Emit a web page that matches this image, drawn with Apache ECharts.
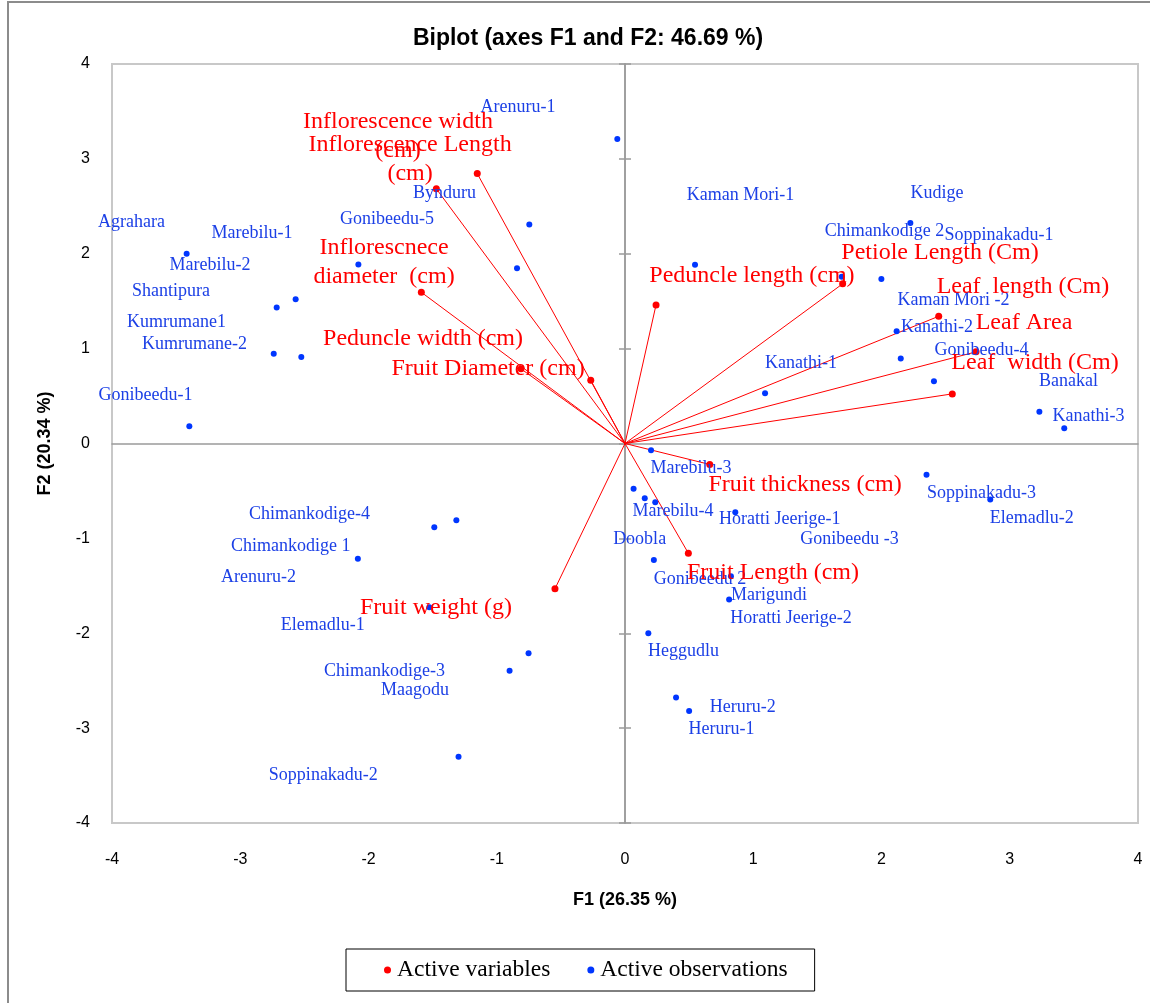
<!DOCTYPE html>
<html><head><meta charset="utf-8">
<script src="https://cdn.jsdelivr.net/npm/echarts@6/dist/echarts.min.js"></script>
<style>html,body{margin:0;padding:0;background:#fff}#c{width:1150px;height:1003px}</style>
</head><body><div id="c"></div>
<script>
// ---- data ----
const axisTicks = [-4, -3, -2, -1, 0, 1, 2, 3, 4];

const obsNames = ["Arenuru-1","Agrahara","Marebilu-1","Marebilu-2","Shantipura","Kumrumane1","Kumrumane-2","Gonibeedu-1","Gonibeedu-5","Bynduru",
  "Kaman Mori-1","Kudige","Chimankodige 2","Soppinakadu-1","Kaman Mori -2","Kanathi-2","Gonibeedu-4","Banakal","Kanathi-3","Kanathi-1",
  "Marebilu-3","Marebilu-4","Doobla","Horatti Jeerige-1","Gonibeedu -3","Soppinakadu-3","Elemadlu-2","Gonibeedu 2","Marigundi","Horatti Jeerige-2",
  "Heggudlu","Heruru-2","Heruru-1","Chimankodige-4","Chimankodige 1","Arenuru-2","Elemadlu-1","Chimankodige-3","Maagodu","Soppinakadu-2"];
const obsF1 = [-0.060,-3.418,-2.079,-2.568,-2.716,-2.524,-2.739,-3.397,-0.842,-0.746,
  0.546,2.225,1.690,1.999,2.118,2.150,2.409,3.231,3.425,1.092,
  0.203,0.154,0.067,0.860,0.236,2.351,2.848,0.225,0.826,0.812,
  0.182,0.398,0.500,-1.315,-1.487,-2.083,-1.526,-0.752,-0.900,-1.298];
const obsF2 = [3.210,2.000,1.886,1.521,1.433,0.913,0.945,0.183,1.847,2.308,
  1.883,2.325,1.757,1.735,1.183,0.896,0.657,0.334,0.162,0.530,
  -0.071,-0.576,-0.477,-0.724,-0.618,-0.330,-0.590,-1.229,-1.398,-1.644,
  -1.999,-2.676,-2.820,-0.808,-0.882,-1.215,-1.725,-2.210,-2.395,-3.301];
// where each observation label sits (axis units)
const obsLabelF1 = [-0.834,-3.848,-2.908,-3.236,-3.540,-3.497,-3.357,-3.739,-1.856,-1.407,
  0.901,2.433,2.023,2.916,2.561,2.433,2.780,3.458,3.614,1.372,
  0.515,0.374,0.114,1.206,1.751,2.780,3.172,0.585,1.123,1.294,
  0.457,0.918,0.752,-2.460,-2.607,-2.857,-2.357,-1.875,-1.637,-2.352];
const obsLabelF2 = [3.544,2.329,2.213,1.876,1.602,1.278,1.043,0.506,2.360,2.634,
  2.613,2.642,2.237,2.195,1.507,1.225,0.980,0.653,0.288,0.850,
  -0.263,-0.713,-1.012,-0.801,-1.012,-0.527,-0.783,-1.426,-1.602,-1.837,
  -2.195,-2.779,-3.014,-0.748,-1.082,-1.409,-1.918,-2.399,-2.600,-3.498];

const varNames = ["Inflorescence width\n(cm)","Inflorescence Length\n(cm)","Inflorescnece\ndiameter  (cm)","Peduncle width (cm)","Fruit Diameter (cm)",
  "Peduncle length (cm)","Petiole Length (Cm)","Leaf  length (Cm)","Leaf Area","Leaf  width (Cm)",
  "Fruit thickness (cm)","Fruit Length (cm)","Fruit weight (g)"];
const varF1 = [-1.471,-1.152,-1.588,-0.811,-0.267,0.242,1.697,2.446,2.737,2.552,0.661,0.494,-0.546];
const varF2 = [2.684,2.845,1.594,0.787,0.667,1.461,1.683,1.341,0.966,0.523,-0.221,-1.156,-1.531];
const varLabelF1 = [-1.770,-1.676,-1.879,-1.575,-1.068,0.990,2.456,3.103,3.111,3.197,1.404,1.154,-1.474];
const varLabelF2 = [3.235,2.993,1.907,1.106,0.790,1.770,2.013,1.654,1.275,0.854,-0.432,-1.359,-1.728];

// ---- chart ----
const serif = '"Liberation Serif","Times New Roman",serif';
const sans = '"Liberation Sans",Arial,sans-serif';
const aMin = axisTicks[0], aMax = axisTicks[axisTicks.length - 1], aStep = axisTicks[1] - axisTicks[0];
const zeroLine = {color: '#9a9a9a', width: 1.5};

const chart = echarts.init(document.getElementById('c'), null, {renderer: 'canvas'});
chart.setOption({
  animation: false,
  backgroundColor: '#fff',
  title: {
    text: 'Biplot (axes F1 and F2: 46.69 %)', left: 583, top: 22, textAlign: 'center',
    textStyle: {fontFamily: sans, fontSize: 23, fontWeight: 'bold', color: '#000'}
  },
  graphic: [{
    type: 'rect', shape: {x: 8, y: 2, width: 1200, height: 1100}, silent: true, z: -10,
    style: {fill: 'none', stroke: '#8c8c8c', lineWidth: 2}
  }],
  grid: {left: 112, right: 12, top: 64, bottom: 180, show: true, borderColor: '#c8c8c8', borderWidth: 2},
  legend: {
    left: 346, top: 949, orient: 'horizontal',
    data: ['Active variables', 'Active observations'],
    icon: 'circle', itemWidth: 7, itemHeight: 7, itemGap: 37,
    padding: [9, 27, 9, 38], borderColor: '#000', borderWidth: 1, backgroundColor: '#fff',
    textStyle: {fontFamily: serif, fontSize: 23.5, color: '#000', padding: [0, 0, 0, 1]}
  },
  xAxis: [{
    type: 'value', min: aMin, max: aMax, interval: aStep, position: 'bottom',
    axisLine: {show: false}, axisTick: {show: false}, splitLine: {show: false},
    axisLabel: {margin: 29, fontFamily: sans, fontSize: 16, color: '#000'},
    name: 'F1 (26.35 %)', nameLocation: 'middle', nameGap: 68,
    nameTextStyle: {fontFamily: sans, fontSize: 18, fontWeight: 'bold', color: '#000'}
  }, {
    type: 'value', min: aMin, max: aMax, interval: aStep, position: 'bottom',
    axisLine: {show: true, onZero: true, onZeroAxisIndex: 0, lineStyle: zeroLine},
    axisTick: {show: false}, axisLabel: {show: false}, splitLine: {show: false}
  }],
  yAxis: [{
    type: 'value', min: aMin, max: aMax, interval: aStep, position: 'left',
    axisLine: {show: false}, axisTick: {show: false}, splitLine: {show: false},
    axisLabel: {margin: 22, fontFamily: sans, fontSize: 16, color: '#000'},
    name: 'F2 (20.34 %)', nameLocation: 'middle', nameGap: 58, nameRotate: 90,
    nameTextStyle: {fontFamily: sans, fontSize: 18, fontWeight: 'bold', color: '#000'}
  }, {
    type: 'value', min: aMin, max: aMax, interval: aStep, position: 'left',
    axisLine: {show: true, onZero: true, onZeroAxisIndex: 0, lineStyle: zeroLine},
    axisTick: {show: true, inside: false, length: 6, lineStyle: zeroLine},
    axisLabel: {show: false}, splitLine: {show: false}
  }, {
    type: 'value', min: aMin, max: aMax, interval: aStep, position: 'left',
    axisLine: {show: true, onZero: true, onZeroAxisIndex: 0, lineStyle: zeroLine},
    axisTick: {show: true, inside: true, length: 6, lineStyle: zeroLine},
    axisLabel: {show: false}, splitLine: {show: false}
  }],
  series: [{
    type: 'lines', coordinateSystem: 'cartesian2d', xAxisIndex: 0, yAxisIndex: 0, silent: true, z: 3,
    data: varF1.map((x, i) => ({coords: [[0, 0], [x, varF2[i]]]})),
    lineStyle: {color: '#ff0000', width: 1, opacity: 1, curveness: 0}
  }, {
    name: 'Active observations', type: 'scatter', xAxisIndex: 0, yAxisIndex: 0, z: 4,
    data: obsF1.map((x, i) => [x, obsF2[i]]),
    symbolSize: 6, itemStyle: {color: '#0036ff', opacity: 1}
  }, {
    name: 'Active variables', type: 'scatter', xAxisIndex: 0, yAxisIndex: 0, z: 5,
    data: varF1.map((x, i) => [x, varF2[i]]),
    symbolSize: 7, itemStyle: {color: '#ff0000', opacity: 1}
  }, {
    type: 'scatter', xAxisIndex: 0, yAxisIndex: 0, z: 6, silent: true, symbolSize: 0,
    itemStyle: {opacity: 1},
    data: obsLabelF1.map((x, i) => ({value: [x, obsLabelF2[i]], name: obsNames[i]})),
    label: {show: true, position: 'inside', formatter: '{b}', fontFamily: serif, fontSize: 18, color: '#1c40e6'}
  }, {
    type: 'scatter', xAxisIndex: 0, yAxisIndex: 0, z: 7, silent: true, symbolSize: 0,
    itemStyle: {opacity: 1},
    data: varLabelF1.map((x, i) => ({value: [x, varLabelF2[i]], name: varNames[i]})),
    label: {show: true, position: 'inside', formatter: '{b}', fontFamily: serif, fontSize: 24, lineHeight: 29, align: 'center', color: '#ff0000'}
  }]
});
</script>
</body></html>
